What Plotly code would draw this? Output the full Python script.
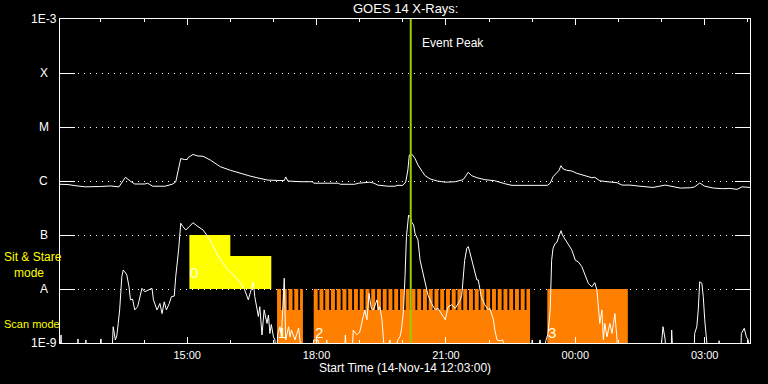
import math
import pandas as pd
import plotly.graph_objects as go

# ---------------- data ----------------
START = "2014-11-14 12:03:00"
SPAN_MIN = 960
B = 5e-10  # below plotted range (clipped at 1E-9)

# GOES long channel (1-8 A), minutes after start, W/m^2
upper_min = [0, 11, 21, 35, 56, 70, 82, 91, 99, 104,
             118, 122, 129, 146, 156, 161, 164, 168, 173, 177,
             178, 185, 192, 199, 209, 223, 237, 250, 264, 274,
             281, 289, 306, 312, 314, 317, 334, 351, 353, 387,
             390, 410, 415, 431, 437, 442, 456, 466, 469, 477,
             481, 484, 486, 490, 494, 498, 504, 508, 515, 525,
             536, 550, 561, 568, 573, 580, 591, 605, 619, 629,
             678, 682, 686, 691, 694, 697, 700, 705, 712, 719,
             733, 740, 744, 751, 761, 775, 782, 793, 807, 825,
             842, 849, 863, 877, 883, 890, 897, 909, 922, 932,
             942, 949, 960]
upper_flux = [8.7e-7, 8.6e-7, 8.2e-7, 7.8e-7, 7.9e-7, 8.1e-7, 7.8e-7, 1.17e-6, 9.7e-7, 8.8e-7,
              8.8e-7, 9.1e-7, 8.0e-7, 8.0e-7, 8.7e-7, 9.6e-7, 1.47e-6, 2.6e-6, 2.5e-6, 2.5e-6,
              2.7e-6, 3.1e-6, 2.9e-6, 2.87e-6, 2.45e-6, 1.84e-6, 1.58e-6, 1.39e-6, 1.24e-6, 1.15e-6,
              1.09e-6, 1.04e-6, 1.02e-6, 1.02e-6, 1.19e-6, 1.0e-6, 9.7e-7, 9.7e-7, 9.1e-7, 9.1e-7,
              8.7e-7, 8.7e-7, 9.1e-7, 9.5e-7, 9.1e-7, 8.4e-7, 8.0e-7, 8.0e-7, 8.3e-7, 8.3e-7,
              9.6e-7, 1.6e-6, 3.03e-6, 3.1e-6, 2.6e-6, 1.98e-6, 1.49e-6, 1.25e-6, 1.09e-6, 1.0e-6,
              9.5e-7, 9.7e-7, 1.06e-6, 1.45e-6, 1.25e-6, 1.15e-6, 1.06e-6, 1.01e-6, 8.9e-7, 8.3e-7,
              8.3e-7, 9.1e-7, 1.2e-6, 1.45e-6, 1.55e-6, 1.92e-6, 1.67e-6, 1.58e-6, 1.53e-6, 1.39e-6,
              1.2e-6, 1.15e-6, 1.17e-6, 1.01e-6, 9.7e-7, 9.3e-7, 8.4e-7, 8.4e-7, 8.0e-7, 7.6e-7,
              8.4e-7, 8.0e-7, 7.4e-7, 7.5e-7, 7.8e-7, 9.2e-7, 8.0e-7, 7.4e-7, 7.2e-7, 7.3e-7,
              7.0e-7, 7.8e-7, 7.6e-7]

# GOES short channel (0.5-4 A)
lower_min = [0, 1.4, 3, 24, 25, 26, 35, 36, 37, 56,
             57, 58, 72, 74, 77, 79, 81, 83, 86, 88,
             90, 93, 96, 98, 101, 104, 108, 111, 114, 118,
             123, 128, 130, 135, 139, 142, 145, 148, 152, 155,
             159, 161, 165, 168, 171, 175, 180, 185, 192, 199,
             204, 211, 218, 225, 232, 239, 246, 253, 257, 262,
             264, 269, 271, 274, 276, 278, 281, 284, 288, 290,
             292, 294, 297, 299, 301, 303, 306, 308, 311, 312,
             314, 318, 320, 322, 327, 332, 334, 337, 351, 353,
             359, 362, 370, 371, 374, 396, 397, 399, 406, 408,
             413, 417, 422, 424, 427, 430, 433, 436, 441, 443,
             445, 448, 450, 452, 459, 463, 470, 473, 475, 478,
             480, 482, 485, 487, 489, 492, 494, 498, 501, 504,
             508, 512, 517, 522, 526, 531, 536, 540, 545, 550,
             554, 557, 559, 561, 563, 566, 568, 570, 573, 577,
             580, 582, 584, 586, 591, 596, 598, 603, 605, 608,
             612, 616, 622, 654, 657, 661, 668, 671, 676, 679,
             682, 684, 686, 689, 691, 695, 697, 699, 703, 707,
             712, 717, 721, 726, 730, 735, 740, 744, 747, 749,
             751, 754, 756, 758, 761, 765, 768, 770, 772, 775,
             776, 835, 839, 842, 843, 850, 851, 853, 882, 883,
             886, 888, 890, 893, 895, 897, 900, 902, 916, 917,
             918, 947, 948, 952, 955, 958, 960]
lower_flux = [B, 1.41e-9, B, B, 1.19e-9, B, B, 1.14e-9, B, B,
              1.19e-9, B, B, 2.0e-9, 1.14e-9, 1.35e-9, 2.3e-9, 4.1e-9, 1.69e-8, 2.25e-8,
              2.09e-8, 1.82e-8, 1.1e-8, 6.3e-9, 6.5e-9, 4.1e-9, 4.7e-9, 7.2e-9, 1.03e-8, 8.9e-9,
              9.6e-9, 1.03e-8, 6.3e-9, 4.1e-9, 5.4e-9, 3.5e-9, 5.8e-9, 4.1e-9, 5.4e-9, 7.2e-9,
              7.4e-9, 1.69e-8, 5.3e-8, 1.65e-7, 1.43e-7, 1.24e-7, 1.43e-7, 1.69e-7, 1.43e-7, 1.24e-7,
              1.0e-7, 7.0e-8, 4.6e-8, 3.2e-8, 2.4e-8, 1.95e-8, 1.58e-8, 1.19e-8, 9.6e-9, 6.3e-9,
              7.7e-9, 1.36e-8, 7.2e-9, 4.1e-9, 3.1e-9, 4.7e-9, 1.41e-9, 4.1e-9, 2.3e-9, 3.3e-9,
              1.5e-9, 2.2e-9, 1.3e-9, 1.14e-9, B, 1.5e-9, 2.0e-9, 1.3e-9, 6.3e-9, 1.58e-8,
              1.14e-9, 2.0e-9, 1.3e-9, 1.74e-9, 1.14e-9, 1.9e-9, 1.1e-9, B, B, 1.14e-9,
              1.14e-9, B, B, 1.14e-9, B, B, 1.41e-9, B, B, 1.74e-9,
              1.41e-9, 1.6e-9, 3.1e-9, 4.1e-9, 2.7e-9, 8.3e-9, 4.4e-9, 4.1e-9, 6.3e-9, 4.1e-9,
              4.7e-9, 2.7e-9, 1.14e-9, B, 1.14e-9, B, 1.14e-9, 1.3e-9, 1.74e-9, 4.1e-9,
              1.69e-8, 9.3e-8, 2.34e-7, 2.2e-7, 1.76e-7, 1.53e-7, 1.07e-7, 8.1e-8, 3.4e-8, 2.25e-8,
              1.36e-8, 7.7e-9, 5.4e-9, 4.1e-9, 4.4e-9, 3.5e-9, 2.7e-9, 4.7e-9, 5.1e-9, 4.4e-9,
              5.4e-9, 6.3e-9, 7.7e-9, 1.47e-8, 3.4e-8, 5.7e-8, 6.1e-8, 4.9e-8, 3.4e-8, 2.25e-8,
              1.47e-8, 1.47e-8, 1.1e-8, 7.2e-9, 5.1e-9, 4.1e-9, 4.4e-9, 2.7e-9, 1.74e-9, 1.14e-9,
              1.1e-9, 1.14e-9, B, B, 1.14e-9, B, 1.14e-9, B, 1.1e-9, 1.5e-9,
              4.1e-9, 3.4e-8, 5.7e-8, 7.0e-8, 7.2e-8, 1.0e-7, 1.2e-7, 1.0e-7, 8.1e-8, 6.5e-8,
              5.3e-8, 3.4e-8, 3.2e-8, 2.6e-8, 1.95e-8, 1.28e-8, 1.1e-8, 1.31e-8, 9.6e-9, 4.7e-9,
              2.3e-9, 4.1e-9, 1.14e-9, 2.3e-9, 1.3e-9, 2.3e-9, 1.5e-9, 2.3e-9, 3.5e-9, 1.14e-9,
              B, B, 2.0e-9, 1.14e-9, B, B, 1.74e-9, B, B, 1.5e-9,
              2.0e-9, 4.1e-9, 1.36e-8, 1.28e-8, 7.2e-9, 2.7e-9, 1.14e-9, B, B, 1.1e-9,
              B, B, 1.5e-9, 1.87e-9, 1.3e-9, 1.1e-9, B]

event_peak_min = 488

# Sit & stare observations (minutes after start)
sit_start = [180, 237]
sit_end = [237, 294]
sit_top = [1.0e-7, 4.1e-8]
obs_floor = 1.0e-8

# Scan-mode observations
scan_start = [302, 353, 678]
scan_end = [338, 654, 790]
scan_base_top = [4.1e-9, 4.1e-9, 1.0e-8]
scan_bottom = 1.0e-9
raster_start = [302, 310, 318, 326, 334,
                353, 361, 369, 377, 385, 393, 401, 409, 417, 425,
                433, 441, 449, 457, 465, 473, 481, 489, 497, 505,
                513, 521, 529, 537, 545, 553, 561, 569, 577, 585,
                593, 601, 609, 617, 625, 633, 641, 649]
raster_block = [0, 0, 0, 0, 0] + [1] * 38
raster_dur = 5.5

obs_labels = ["0", "1", "2", "3"]
obs_label_min = [180, 302, 353, 678]

ytick_vals = [1e-9, 1e-8, 1e-7, 1e-6, 1e-5, 1e-4, 1e-3]
ytick_text = ["1E-9", "A", "B", "C", "M", "X", "1E-3"]

# ---------------- helpers ----------------
t0 = pd.Timestamp(START)


def T(m):
    return (t0 + pd.Timedelta(minutes=m)).strftime("%Y-%m-%d %H:%M:%S")


def rects(starts, ends, lows, highs):
    xs, ys = [], []
    for s, e, lo, hi in zip(starts, ends, lows, highs):
        xs += [T(s), T(e), T(e), T(s), T(s), None]
        ys += [lo, lo, hi, hi, lo, None]
    return xs, ys


FONT = "Liberation Sans"
YELLOW = "#ffff00"
ORANGE = "#ff8000"

fig = go.Figure()

# sit & stare blocks
sx, sy = rects(sit_start, sit_end, [obs_floor] * len(sit_start), sit_top)
fig.add_trace(go.Scatter(x=sx, y=sy, fill="toself", fillcolor=YELLOW, mode="lines",
                         line=dict(width=0, color=YELLOW), hoverinfo="skip", showlegend=False))

# scan base blocks
bx, by = rects(scan_start, scan_end, [scan_bottom] * len(scan_start), scan_base_top)
fig.add_trace(go.Scatter(x=bx, y=by, fill="toself", fillcolor=ORANGE, mode="lines",
                         line=dict(width=0, color=ORANGE), hoverinfo="skip", showlegend=False))

# raster stripes
r_end = [min(s + raster_dur, scan_end[b]) for s, b in zip(raster_start, raster_block)]
rx, ry = rects(raster_start, r_end,
               [scan_base_top[b] for b in raster_block], [obs_floor] * len(raster_start))
fig.add_trace(go.Scatter(x=rx, y=ry, fill="toself", fillcolor=ORANGE, mode="lines",
                         line=dict(width=0, color=ORANGE), hoverinfo="skip", showlegend=False))

# GOES curves
fig.add_trace(go.Scatter(x=[T(m) for m in upper_min], y=upper_flux, mode="lines",
                         line=dict(color="white", width=1), showlegend=False))
fig.add_trace(go.Scatter(x=[T(m) for m in lower_min], y=lower_flux, mode="lines",
                         line=dict(color="white", width=1), showlegend=False))

# event peak line
fig.add_trace(go.Scatter(x=[T(event_peak_min)] * 2, y=[1e-9, 1e-3], mode="lines",
                         line=dict(color="#9acd00", width=2), showlegend=False))

ann = []
# y labels (centered, IDL style)
for v, t in zip(ytick_vals, ytick_text):
    ann.append(dict(x=-0.0232, xref="paper", y=math.log10(v), yref="y", text=t,
                    showarrow=False, xanchor="center", yanchor="middle",
                    font=dict(family=FONT, size=12, color="white")))
# observation labels
for lbl, m in zip(obs_labels, obs_label_min):
    ann.append(dict(x=T(m), xref="x", y=0.219 if lbl == "0" else 0.031, yref="paper",
                    text=lbl, showarrow=False, xanchor="center", yanchor="middle", xshift=5,
                    font=dict(family=FONT, size=15, color="#ffffe8")))
ann += [
    dict(x=0.5, xref="paper", y=1.031, yref="paper", text="GOES 14 X-Rays:", showarrow=False,
         xanchor="center", yanchor="middle", font=dict(family=FONT, size=13, color="white")),
    dict(x=0.5, xref="paper", y=-0.077, yref="paper", text="Start Time (14-Nov-14 12:03:00)",
         showarrow=False, xanchor="center", yanchor="middle",
         font=dict(family=FONT, size=12, color="white")),
    dict(x=T(event_peak_min), xref="x", y=0.926, yref="paper", text="Event Peak",
         showarrow=False, xanchor="left", yanchor="middle", xshift=9,
         font=dict(family=FONT, size=12, color="white")),
    dict(x=-0.0841, xref="paper", y=0.241, yref="paper",
         text="Sit & Stare<br>&nbsp;&nbsp;&nbsp;mode", showarrow=False, align="left",
         xanchor="left", yanchor="middle", font=dict(family=FONT, size=12, color=YELLOW)),
    dict(x=-0.0841, xref="paper", y=0.0586, yref="paper", text="Scan mode", showarrow=False,
         xanchor="left", yanchor="middle", font=dict(family=FONT, size=11, color=YELLOW)),
]

fig.update_layout(
    width=768, height=384,
    margin=dict(l=60, r=18, t=19, b=41),
    paper_bgcolor="black", plot_bgcolor="black",
    showlegend=False,
    annotations=ann,
    xaxis=dict(type="date", range=[T(0), T(SPAN_MIN)], showgrid=False, zeroline=False,
               showline=True, linecolor="white", linewidth=1, mirror="ticks",
               ticks="inside", ticklen=6, tickwidth=1, tickcolor="white",
               tick0="2014-11-14 15:00:00", dtick=3 * 3600 * 1000, tickformat="%H:%M",
               ticklabelstandoff=2,
               tickfont=dict(family=FONT, size=11, color="white"),
               minor=dict(ticks="inside", ticklen=3, tickwidth=1, tickcolor="white",
                          tick0="2014-11-14 13:00:00", dtick=3600 * 1000, showgrid=False)),
    yaxis=dict(type="log", range=[-9, -3], tickvals=ytick_vals, showticklabels=False,
               ticks="inside", ticklen=15, tickwidth=1, tickcolor="white",
               showline=True, linecolor="white", linewidth=1, mirror="ticks",
               showgrid=True, gridcolor="white", gridwidth=1, griddash="1px,5px",
               zeroline=False),
)

fig.write_html("out.html", config={"displayModeBar": False},
               post_script="document.body.style.margin='0px';")
